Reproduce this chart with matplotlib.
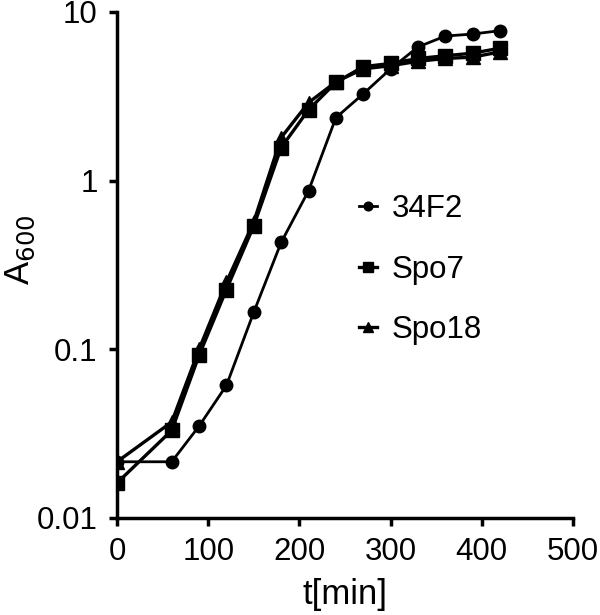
import matplotlib
matplotlib.use("Agg")
import matplotlib.pyplot as plt
import matplotlib.ticker as mticker

plt.rcParams['font.family'] = ['Liberation Sans', 'DejaVu Sans']

t_34f2 = [0, 60, 90, 120, 150, 180, 210, 240, 270, 300, 330, 360, 390, 420]
a_34f2 = [0.0215, 0.0215, 0.035, 0.061, 0.166, 0.43, 0.87, 2.36, 3.27, 4.6, 6.2, 7.2, 7.4, 7.75]

t_spo7 = [0, 60, 90, 120, 150, 180, 210, 240, 270, 300, 330, 360, 390, 420]
a_spo7 = [0.0161, 0.033, 0.092, 0.226, 0.54, 1.57, 2.63, 3.82, 4.74, 4.95, 5.3, 5.5, 5.7, 6.1]

t_spo18 = [0, 60, 90, 120, 150, 180, 210, 240, 270, 300, 330, 360, 390, 420]
a_spo18 = [0.0215, 0.037, 0.1, 0.25, 0.57, 1.8, 2.9, 3.85, 4.6, 4.8, 5.1, 5.3, 5.4, 5.8]

labels = ['34F2', 'Spo7', 'Spo18']
xticks = [0, 100, 200, 300, 400, 500]
yticks = [0.01, 0.1, 1, 10]
ytick_labels = ['0.01', '0.1', '1', '10']

fig = plt.figure(figsize=(6, 6.15), dpi=100)
ax = fig.add_axes([0.195, 0.158, 0.76, 0.8225])

ax.plot(t_34f2, a_34f2, '-', color='black', marker='o', markersize=9, linewidth=2.0, label=labels[0])
ax.plot(t_spo7, a_spo7, '-', color='black', marker='s', markersize=9.5, linewidth=2.4, label=labels[1])
ax.plot(t_spo18, a_spo18, '-', color='black', marker='^', markersize=10, linewidth=2.4, label=labels[2])

ax.set_yscale('log')
ax.set_xlim(0, 500)
ax.set_ylim(0.01, 10)
ax.set_xticks(xticks)
ax.set_xticklabels([str(v) for v in xticks])
ax.set_yticks(yticks)
ax.set_yticklabels(ytick_labels)
ax.yaxis.set_minor_locator(mticker.NullLocator())

for s in ['top', 'right']:
    ax.spines[s].set_visible(False)
for s in ['left', 'bottom']:
    ax.spines[s].set_linewidth(2.5)
ax.tick_params(axis='both', width=2.5, length=6, labelsize=22.5)
ax.tick_params(axis='x', pad=8)
ax.tick_params(axis='y', pad=8)

ax.set_xlabel('t[min]', fontsize=25, labelpad=8)
ax.set_ylabel('A$_{600}$', fontsize=25)
ax.yaxis.set_label_coords(-0.175, 0.53)

leg = ax.legend(loc='upper left', bbox_to_anchor=(0.53, 0.64), frameon=False,
                fontsize=22.5, handlelength=0.6, handletextpad=0.45, labelspacing=0.98,
                markerscale=0.7, borderaxespad=0, borderpad=0)

fig.savefig('out.png', dpi=100)
